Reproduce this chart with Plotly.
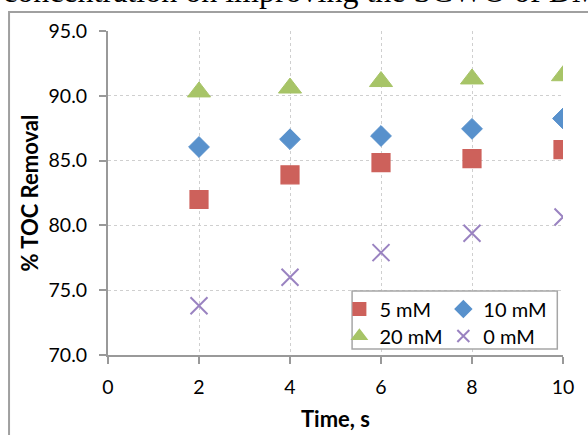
import plotly.graph_objects as go

time_s = [2, 4, 6, 8, 10]
toc_5mM = [82.0, 83.9, 84.85, 85.15, 85.85]
toc_10mM = [86.05, 86.65, 86.9, 87.45, 88.25]
toc_20mM = [90.3, 90.6, 91.1, 91.3, 91.55]
toc_0mM = [73.8, 76.0, 77.9, 79.4, 80.65]

series_names = ["5 mM", "10 mM", "20 mM", "0 mM"]
x_ticks = [0, 2, 4, 6, 8, 10]
y_ticks = [70, 75, 80, 85, 90, 95]

FONT = "Lato, Calibri, Carlito, sans-serif"
W, H = 588, 435
L, R, T, B = 107.5, 25.3, 31, 80
pw, ph = W - L - R, H - T - B

def px(xp):
    return (xp - L) / pw

def py(yp):
    return (H - B - yp) / ph

fig = go.Figure()
fig.add_trace(go.Scatter(x=time_s, y=toc_5mM, mode="markers", name=series_names[0],
                         marker=dict(symbol="square", size=18, color="#CD615B",
                                     line=dict(width=1.2, color="#CD615B")),
                         legend="legend"))
fig.add_trace(go.Scatter(x=time_s, y=toc_10mM, mode="markers", name=series_names[1],
                         marker=dict(symbol="diamond", size=16, color="#5891CC",
                                     line=dict(width=1, color="#5891CC")),
                         legend="legend2"))
fig.add_trace(go.Scatter(x=time_s, y=toc_20mM, mode="markers", name=series_names[2],
                         marker=dict(symbol="triangle-up", size=20, color="#A7C467",
                                     line=dict(width=1, color="#A7C467")),
                         legend="legend3"))
fig.add_trace(go.Scatter(x=time_s, y=toc_0mM, mode="markers", name=series_names[3],
                         marker=dict(symbol="x-thin", size=17, color="#9A83C1",
                                     line=dict(width=2, color="#9A83C1")),
                         legend="legend4"))

axis_col = "#999999"
grid_col = "#CFCFCF"

fig.update_xaxes(range=[0, 10], tickvals=x_ticks, ticktext=[str(v) for v in x_ticks],
                 showline=True, linecolor=axis_col, linewidth=2,
                 ticks="outside", ticklen=7, tickwidth=2, tickcolor=axis_col,
                 showgrid=True, gridcolor=grid_col, griddash="dot", gridwidth=1,
                 zeroline=False, tickfont=dict(family=FONT, size=19.5, color="#000"),
                 ticklabelstandoff=7,
                 title=dict(text="<b>Time, s</b>", font=dict(family=FONT, size=22, color="#000"),
                            standoff=14),
                 automargin=False)
fig.update_yaxes(range=[70, 95], tickvals=y_ticks, ticktext=[f"{v:.1f}" for v in y_ticks],
                 showline=True, linecolor=axis_col, linewidth=2,
                 ticks="outside", ticklen=7, tickwidth=2, tickcolor=axis_col,
                 showgrid=True, gridcolor=grid_col, griddash="dot", gridwidth=1,
                 zeroline=False, tickfont=dict(family=FONT, size=19.5, color="#000"),
                 ticklabelstandoff=8,
                 title=dict(text="<b>% TOC Removal</b>", font=dict(family=FONT, size=22, color="#000"),
                            standoff=4),
                 automargin=False)

leg_common = dict(bgcolor="rgba(0,0,0,0)", borderwidth=0, orientation="v",
                  itemsizing="constant", xanchor="left", yanchor="middle",
                  font=dict(family=FONT, size=20, color="#000"))
row1, row2 = py(309), py(336)
col1, col2 = px(339), px(443)
fig.update_layout(
    legend=dict(x=col1, y=row1, **leg_common),
    legend2=dict(x=col2, y=row1, **leg_common),
    legend3=dict(x=col1, y=row2, **leg_common),
    legend4=dict(x=col2, y=row2, **leg_common),
)

shapes = [
    # legend frame
    dict(type="rect", xref="paper", yref="paper", x0=px(351.7), x1=px(557), y0=py(349), y1=py(291),
         line=dict(color="#A6A6A6", width=1.5), fillcolor="white", layer="above"),
    # outer chart frame (left and top edges)
    dict(type="path", xref="paper", yref="paper",
         path=f"M {px(8.5)} {py(440)} L {px(8.5)} {py(12)} L {px(600)} {py(12)}",
         line=dict(color="#A0A0A0", width=2)),
]

fig.update_layout(
    width=W, height=H,
    margin=dict(l=L, r=R, t=T, b=B),
    paper_bgcolor="white", plot_bgcolor="white",
    shapes=shapes,
    showlegend=True,
    annotations=[dict(text="concentration on improving the SCWO of DM",
                      xref="paper", yref="paper", x=px(0), y=py(11),
                      xanchor="left", yanchor="bottom", showarrow=False,
                      font=dict(family="Liberation Serif, Times New Roman, serif", size=32, color="#000"))],
)

fig.write_html("out.html")
